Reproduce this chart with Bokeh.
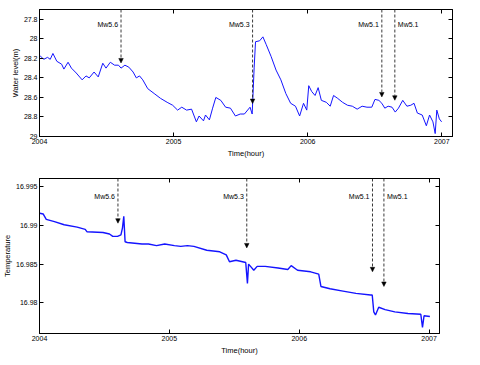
from bokeh.plotting import figure
from bokeh.models import (Range1d, LinearAxis, FixedTicker, Arrow, NormalHead,
                          ColumnDataSource)
from bokeh.layouts import column
from bokeh.core.properties import value
from bokeh.embed import file_html
from bokeh.resources import INLINE

# ---------------- data ----------------
wl_year = [2004.002, 2004.031, 2004.060, 2004.080, 2004.100, 2004.129, 2004.165, 2004.182,
           2004.213, 2004.238, 2004.274, 2004.318, 2004.347, 2004.371, 2004.407, 2004.438,
           2004.472, 2004.496, 2004.528, 2004.560, 2004.589, 2004.608, 2004.637, 2004.666,
           2004.698, 2004.722, 2004.746, 2004.770, 2004.807, 2004.855, 2004.903, 2004.952,
           2004.993, 2005.030, 2005.061, 2005.097, 2005.134, 2005.170, 2005.190, 2005.223,
           2005.238, 2005.267, 2005.291, 2005.315, 2005.352, 2005.388, 2005.424, 2005.461,
           2005.497, 2005.528, 2005.570, 2005.586, 2005.601, 2005.611, 2005.642, 2005.666,
           2005.691, 2005.727, 2005.764, 2005.800, 2005.837, 2005.873, 2005.909, 2005.940,
           2005.969, 2005.993, 2006.008, 2006.030, 2006.055, 2006.078, 2006.102, 2006.139,
           2006.168, 2006.193, 2006.224, 2006.260, 2006.297, 2006.333, 2006.369, 2006.406,
           2006.442, 2006.478, 2006.502, 2006.531, 2006.553, 2006.575, 2006.600, 2006.629,
           2006.653, 2006.677, 2006.709, 2006.740, 2006.769, 2006.793, 2006.818, 2006.854,
           2006.885, 2006.909, 2006.934, 2006.951, 2006.963, 2006.982, 2006.999]
wl_value = [28.17, 28.21, 28.19, 28.21, 28.15, 28.23, 28.26, 28.31,
            28.24, 28.30, 28.35, 28.42, 28.38, 28.40, 28.34, 28.39,
            28.25, 28.30, 28.24, 28.27, 28.27, 28.30, 28.27, 28.29,
            28.34, 28.40, 28.38, 28.42, 28.51, 28.56, 28.61, 28.65,
            28.68, 28.73, 28.70, 28.73, 28.72, 28.85, 28.79, 28.84,
            28.78, 28.83, 28.71, 28.60, 28.63, 28.70, 28.71, 28.79,
            28.77, 28.77, 28.70, 28.77, 28.29, 28.03, 28.02, 27.98,
            28.06, 28.18, 28.32, 28.42, 28.56, 28.66, 28.69, 28.79,
            28.66, 28.73, 28.48, 28.54, 28.58, 28.50, 28.63, 28.65,
            28.69, 28.58, 28.61, 28.65, 28.68, 28.69, 28.72, 28.69,
            28.70, 28.70, 28.62, 28.63, 28.66, 28.71, 28.69, 28.70,
            28.75, 28.71, 28.63, 28.69, 28.68, 28.66, 28.76, 28.78,
            28.89, 28.78, 28.85, 28.97, 28.73, 28.82, 28.85]

temp_year = [2004.002, 2004.028, 2004.052, 2004.115, 2004.190, 2004.290, 2004.352, 2004.365,
             2004.489, 2004.539, 2004.564, 2004.601, 2004.627, 2004.639, 2004.649, 2004.659,
             2004.676, 2004.789, 2004.839, 2004.901, 2004.964, 2005.039, 2005.088, 2005.139,
             2005.189, 2005.288, 2005.388, 2005.438, 2005.463, 2005.513, 2005.563, 2005.588,
             2005.601, 2005.610, 2005.625, 2005.650, 2005.676, 2005.738, 2005.837, 2005.912,
             2005.938, 2005.987, 2006.088, 2006.150, 2006.167, 2006.237, 2006.337, 2006.437,
             2006.549, 2006.562, 2006.574, 2006.587, 2006.612, 2006.661, 2006.736, 2006.837,
             2006.936, 2006.949, 2006.961, 2007.006]
temp_value = [16.9916, 16.9915, 16.9908, 16.9905, 16.9901, 16.9898, 16.9895, 16.9892,
              16.9891, 16.9889, 16.9886, 16.9886, 16.9888, 16.9897, 16.9912, 16.9879,
              16.9878, 16.9876, 16.9876, 16.9874, 16.9876, 16.9874, 16.9873, 16.9874,
              16.9873, 16.9868, 16.9866, 16.9862, 16.9853, 16.9855, 16.9853, 16.9852,
              16.9825, 16.9850, 16.9847, 16.9842, 16.9847, 16.9847, 16.9845, 16.9843,
              16.9848, 16.9842, 16.9840, 16.9837, 16.9821, 16.9818, 16.9815, 16.9812,
              16.9810, 16.9810, 16.9788, 16.9784, 16.9794, 16.9791, 16.9788, 16.9786,
              16.9785, 16.9768, 16.9783, 16.9782]

event_labels = ["Mw5.6", "Mw5.3", "Mw5.1", "Mw5.1"]
event_year_wl = [2004.608, 2005.589, 2006.553, 2006.650]
event_tip_wl = [28.247, 28.663, 28.595, 28.629]
event_year_temp = [2004.604, 2005.596, 2006.564, 2006.652]
event_tip_temp = [16.9903, 16.9871, 16.9840, 16.9821]

x_ticks = [2004, 2005, 2006, 2007]
x_tick_labels = ["2004", "2005", "2006", "2007"]
wl_ticks = [27.8, 28.0, 28.2, 28.4, 28.6, 28.8, 29.0]
wl_tick_labels = ["27.8", "28", "28.2", "28.4", "28.6", "28.8", "29"]
temp_ticks = [16.98, 16.985, 16.99, 16.995]
temp_tick_labels = ["16.98", "16.985", "16.99", "16.995"]

# ---------------- styling helpers ----------------
FONT = "Liberation Sans"
TICK_FS = "7px"
LABEL_FS = "7.5px"
LINE_COLOR = "#1414ff"


def style_axis(ax, ticks, labels, show_labels=True):
    ax.ticker = FixedTicker(ticks=ticks, minor_ticks=[])
    ax.major_label_overrides = {t: l for t, l in zip(ticks, labels)}
    ax.major_tick_in = 4
    ax.major_tick_out = 0
    ax.minor_tick_in = 0
    ax.minor_tick_out = 0
    ax.axis_line_color = "black"
    ax.major_tick_line_color = "black"
    ax.major_label_text_font = FONT
    ax.major_label_text_color = "black"
    ax.axis_label_text_font = FONT
    ax.axis_label_text_color = "black"
    ax.axis_label_text_font_style = "normal"
    ax.axis_label_text_font_size = LABEL_FS
    if show_labels:
        ax.major_label_text_font_size = TICK_FS
        ax.major_label_standoff = 2
    else:
        ax.major_label_text_font_size = "0px"
        ax.major_label_standoff = 0
        ax.major_label_text_color = None


def make_panel(xs, ys, yr, yticks, ylabels, ylabel, ev_x, ev_tip, lw,
               width, height, borders, label_frac):
    p = figure(width=width, height=height, output_backend="svg", toolbar_location=None,
               x_range=Range1d(2004, 2007.08), y_range=yr,
               min_border_left=borders[0], min_border_right=borders[1],
               min_border_top=borders[2], min_border_bottom=borders[3])
    p.background_fill_color = "white"
    p.border_fill_color = "white"
    p.outline_line_color = "black"
    p.xgrid.visible = False
    p.ygrid.visible = False

    style_axis(p.below[0], x_ticks, x_tick_labels)
    p.below[0].axis_label = "Time(hour)"
    p.below[0].axis_label_standoff = 2
    style_axis(p.left[0], yticks, ylabels)
    p.left[0].axis_label = ylabel
    p.left[0].axis_label_standoff = 1

    top_ax = LinearAxis()
    style_axis(top_ax, x_ticks, x_tick_labels, show_labels=False)
    p.add_layout(top_ax, "above")
    right_ax = LinearAxis()
    style_axis(right_ax, yticks, ylabels, show_labels=False)
    p.add_layout(right_ax, "right")

    p.line(xs, ys, line_color=LINE_COLOR, line_width=lw)

    top = yr.end
    src = ColumnDataSource(dict(x=ev_x, y0=[top] * len(ev_x), y1=ev_tip))
    p.add_layout(Arrow(end=NormalHead(size=4.5, fill_color="black", line_color="black",
                                      line_width=0.5),
                       x_start="x", y_start="y0", x_end="x", y_end="y1", source=src,
                       line_color="#222222", line_width=0.9, line_dash="3 2"))

    label_y = yr.end + (yr.start - yr.end) * label_frac
    left_idx = [0, 1, 2]
    right_idx = [3]
    p.text(x=[ev_x[i] for i in left_idx], y=[label_y] * len(left_idx),
           text=[event_labels[i] for i in left_idx], text_align="right",
           text_baseline="middle", x_offset=-3, text_font=value(FONT),
           text_font_size="7px", text_color="black")
    p.text(x=[ev_x[i] for i in right_idx], y=[label_y] * len(right_idx),
           text=[event_labels[i] for i in right_idx], text_align="left",
           text_baseline="middle", x_offset=3, text_font=value(FONT),
           text_font_size="7px", text_color="black")
    return p


p1 = make_panel(wl_year, wl_value, Range1d(29.0, 27.70), wl_ticks, wl_tick_labels,
                "Water level(m)", event_year_wl, event_tip_wl, 1.0,
                462, 160, (29, 9, 9, 24), 0.12)
p2 = make_panel(temp_year, temp_value, Range1d(16.976, 16.9961), temp_ticks, temp_tick_labels,
                "Temperature", event_year_temp, event_tip_temp, 1.4,
                449, 197, (28, 10, 18, 24), 0.115)

layout = column(p1, p2, spacing=0)
open("out.html", "w").write(file_html(layout, INLINE))
